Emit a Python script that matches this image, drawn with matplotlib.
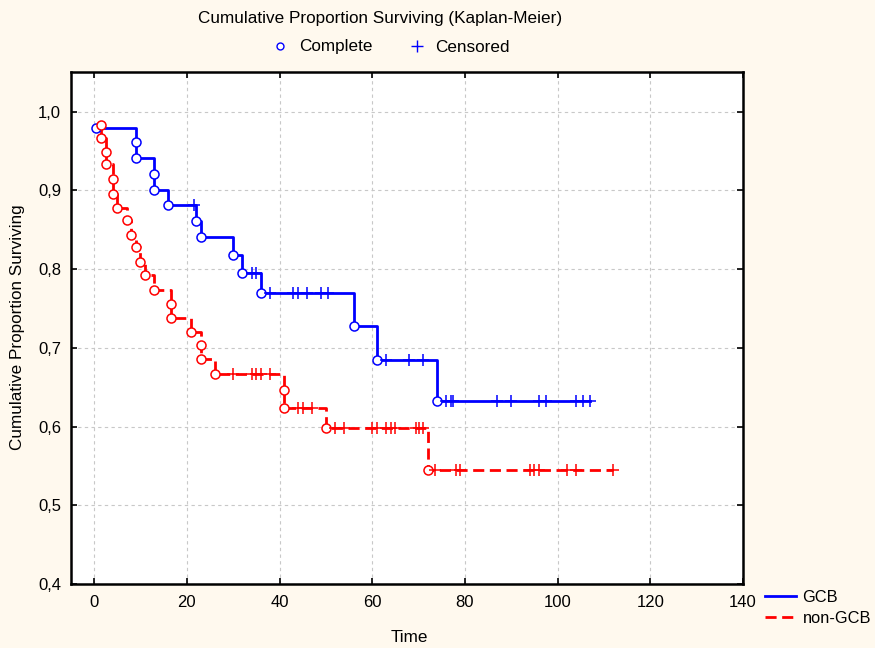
import matplotlib
matplotlib.use("Agg")
import matplotlib.pyplot as plt
from matplotlib.lines import Line2D
from matplotlib.ticker import FuncFormatter
import numpy as np

plt.rcParams['font.family'] = ['Liberation Sans', 'DejaVu Sans']

# GCB group: event times and survival after each event
gcb_t = [0.5, 9, 9, 13, 13, 16, 22, 23, 30, 32, 36, 56, 61, 74]
gcb_s = [0.980, 0.961, 0.941, 0.921, 0.901, 0.881, 0.861, 0.841,
         0.818, 0.795, 0.770, 0.728, 0.685, 0.633]
gcb_cens = [21.5, 34, 35, 38, 43, 44, 46, 49, 50.5, 63, 68, 71,
            76, 77, 77.5, 87, 90, 96, 97.5, 104, 105.5, 107]

# non-GCB group
ngcb_t = [1.5, 1.5, 2.5, 2.5, 4, 4, 5, 7, 8, 9, 10, 11, 13, 16.5, 16.5,
          21, 23, 23, 26, 41, 41, 50, 72]
ngcb_s = [0.983, 0.967, 0.949, 0.934, 0.915, 0.895, 0.878, 0.862, 0.844,
          0.828, 0.809, 0.792, 0.773, 0.756, 0.738, 0.720, 0.704, 0.686,
          0.667, 0.646, 0.623, 0.598, 0.545]
ngcb_cens = [30, 34, 35, 36, 38, 44, 45, 47, 52, 54, 60, 61, 63, 64, 65,
             69.5, 70, 71, 73.5, 78, 79, 94, 95, 96, 102, 104, 112]

fig = plt.figure(figsize=(8.75, 6.48), dpi=100, facecolor='#FFF9EE')
ax = fig.add_axes([0.0811, 0.0988, 0.7680, 0.7906])
ax.set_facecolor('white')


def km_curve(t, s, cens, color, ls, dashes=None):
    t = np.asarray(t)
    s = np.asarray(s)
    cens = np.asarray(cens)
    t_end = max(t.max(), cens.max())
    line, = ax.step(np.r_[t, t_end], np.r_[s, s[-1]], where='post',
                    color=color, lw=2.0, ls=ls, zorder=3)
    if dashes:
        line.set_dashes(dashes)
    ax.plot(t, s, 'o', ms=6.5, mfc='white', mec=color, mew=1.1, zorder=4)
    idx = np.searchsorted(t, cens, side='right') - 1
    ax.plot(cens, s[idx], '+', ms=8, color=color, mew=1.1, zorder=4)


km_curve(gcb_t, gcb_s, gcb_cens, '#0000FF', '-')
km_curve(ngcb_t, ngcb_s, ngcb_cens, '#FF0000', '--', dashes=(4, 2))

ax.set_xlim(-5, 140)
ax.set_ylim(0.4, 1.051)
ax.set_xticks(np.arange(0, 141, 20))
ax.set_yticks(np.arange(0.4, 1.01, 0.1))
ax.yaxis.set_major_formatter(FuncFormatter(lambda v, p: f"{v:.1f}".replace('.', ',')))
ax.tick_params(direction='in', top=True, right=True, length=4, width=1.2,
               labelsize=12, colors='black')
ax.tick_params(axis='x', pad=8)
ax.tick_params(axis='y', pad=7)
ax.grid(True, color='#C8C8C8', ls=(0, (3, 3)), lw=0.8)
ax.set_axisbelow(True)
for sp in ax.spines.values():
    sp.set_linewidth(1.8)

fig.text(380 / 875, 1 - 18 / 648, 'Cumulative Proportion Surviving (Kaplan-Meier)',
         ha='center', va='center', fontsize=12.3)
fig.text(18 / 875, 1 - 327 / 648, 'Cumulative Proportion Surviving',
         rotation=90, ha='center', va='center', fontsize=12.3)
fig.text(409 / 875, 1 - 638 / 648, 'Time', ha='center', va='center', fontsize=12.3)

top_handles = [
    Line2D([], [], ls='none', marker='o', ms=5, mfc='white', mec='#0000FF'),
    Line2D([], [], ls='none', marker='+', ms=8, color='#0000FF'),
]
fig.legend(top_handles, ['Complete', 'Censored'], loc='center',
           bbox_to_anchor=(390 / 875, 1 - 47 / 648), ncol=2, frameon=False,
           fontsize=12.3, handletextpad=0.5, columnspacing=2.0, handlelength=1.2)

grp_handles = [
    Line2D([], [], color='#0000FF', lw=2.0),
    Line2D([], [], color='#FF0000', lw=2.0, dashes=(4, 2)),
]
fig.legend(grp_handles, ['GCB', 'non-GCB'], loc='upper left',
           bbox_to_anchor=(755 / 875, 1 - 580 / 648), frameon=False,
           fontsize=11.8, handlelength=1.9, handletextpad=0.4, labelspacing=0.35,
           borderaxespad=0.2)

fig.savefig('out.png', dpi=100, facecolor=fig.get_facecolor())
